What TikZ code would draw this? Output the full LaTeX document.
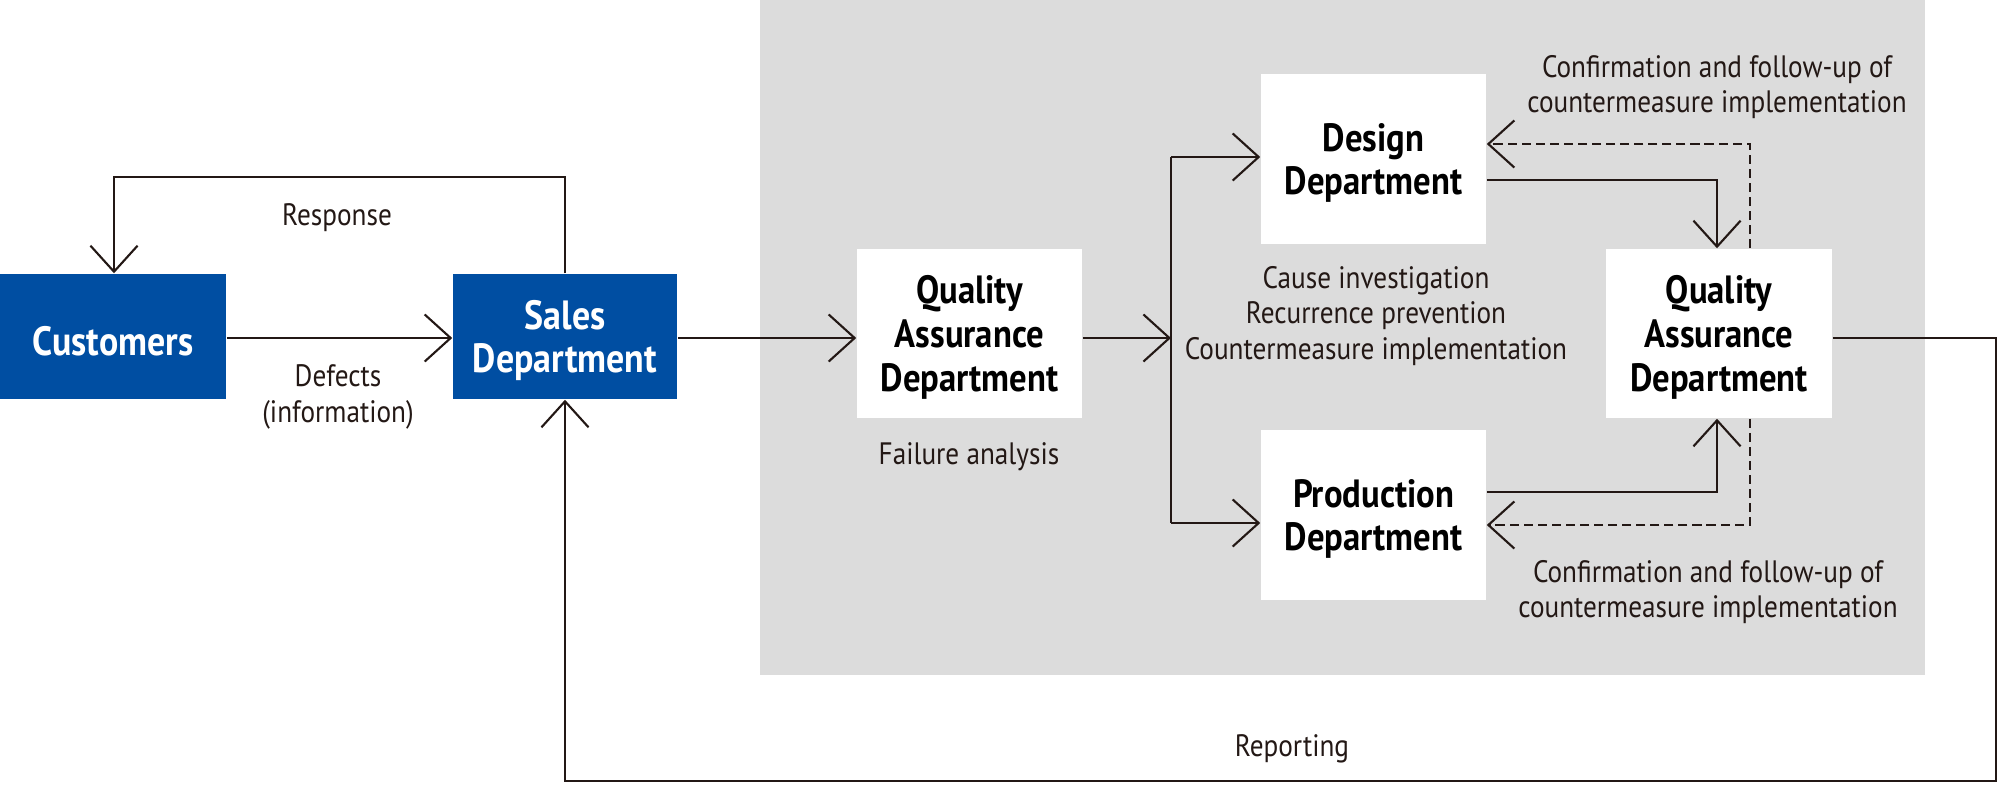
\documentclass[tikz,border=0pt]{standalone}
\usepackage{fontspec}
\setmainfont{PT Sans}[FakeStretch=0.88]
\usetikzlibrary{arrows.meta,positioning}
\definecolor{SalesBlue}{RGB}{0,78,162}
\definecolor{PanelGray}{RGB}{220,220,220}
\definecolor{InkDark}{RGB}{35,24,21}
\tikzset{
  bluebox/.style  ={rectangle, fill=SalesBlue, text=white, align=center,
                    font=\fontsize{11.6}{12.4}\selectfont\bfseries, inner sep=0pt, text depth=0pt},
  whitebox/.style ={rectangle, fill=white, text=black, align=center,
                    font=\fontsize{11.2}{12.4}\selectfont\bfseries, inner sep=0pt, text depth=0pt,
                    minimum width=2.25cm, minimum height=1.7cm},
  arr/.style      ={-{Straight Barb[length=7.4pt,width=13.4pt]}, draw=InkDark, line width=.6pt},
  arrdash/.style  ={arr, dash pattern=on 2.6pt off 1.4pt},
  wire/.style     ={draw=InkDark, line width=.6pt},
  lbl/.style      ={text=InkDark, align=center, font=\fontsize{8.8}{10}\selectfont, inner sep=0pt},
}

\begin{document}
\begin{tikzpicture}[x=0.01cm,y=-0.01cm]
  \useasboundingbox (0,0) rectangle (2000,784);
  \fill[PanelGray] (760,0) rectangle (1925,675);

  % departments
  \node[bluebox,minimum width=2.26cm,minimum height=1.25cm,text height=11pt] (cust) at (113,336.5) {Customers};
  \node[bluebox,minimum width=2.24cm,minimum height=1.25cm] (sales) at (565,336.5) {Sales\\Department};
  \node[whitebox,minimum height=1.69cm] (qa1) at (969.5,333.5) {Quality\\Assurance\\Department};
  \node[whitebox] (design) at (1373.5,159) {Design\\Department};
  \node[whitebox] (prod) at (1373.5,515) {Production\\Department};
  \node[whitebox,minimum width=2.26cm,minimum height=1.69cm] (qa2) at (1719,333.5) {Quality\\Assurance\\Department};

  % branch and turning points
  \coordinate (split) at (1171,338);
  \coordinate (splitup) at (1171,157);
  \coordinate (splitdn) at (1171,523);
  \coordinate (resp) at (114,177);
  \coordinate (rep) at (1996,781);

  % main flow
  \draw[arr] (cust.east |- 0,338) -- (sales.west |- 0,338);
  \draw[arr] (sales.east |- 0,338) -- (qa1.west |- 0,338);
  \draw[arr] (qa1.east |- split) -- (split);
  \draw[wire] (splitup) -- (splitdn);
  \draw[arr] (splitup) -- (design.west |- splitup);
  \draw[arr] (splitdn) -- (prod.west |- splitdn);
  \draw[arr] (design.east |- 0,180) -| (qa2.north -| 1717,0);
  \draw[arr] (prod.east |- 0,492) -| (qa2.south -| 1717,0);

  % follow-up (dashed)
  \draw[arrdash] (qa2.north -| 1750,0) |- (design.east |- 0,144);
  \draw[arrdash] (qa2.south -| 1750,0) |- (prod.east |- 0,525);

  % response and reporting loops
  \draw[arr] (sales.north) |- (resp) -- (cust.north -| resp);
  \draw[arr] (qa2.east |- 0,338) -| (rep) -| (sales.south);

  % labels
  \node[lbl] (lresp) at (337,218) {Response};
  \node[lbl] (ldef) at (338,397) {Defects\\(information)};
  \node[lbl] (lfail) at (969,457) {Failure analysis};
  \node[lbl] (lcause) at (1376,316) {Cause investigation\\Recurrence prevention\\Countermeasure implementation};
  \node[lbl] (lconf1) at (1717,87) {Confirmation and follow-up of\\countermeasure implementation};
  \node[lbl] (lconf2) at (1708,592) {Confirmation and follow-up of\\countermeasure implementation};
  \node[lbl] (lrep) at (1292,749) {Reporting};
\end{tikzpicture}
\end{document}
